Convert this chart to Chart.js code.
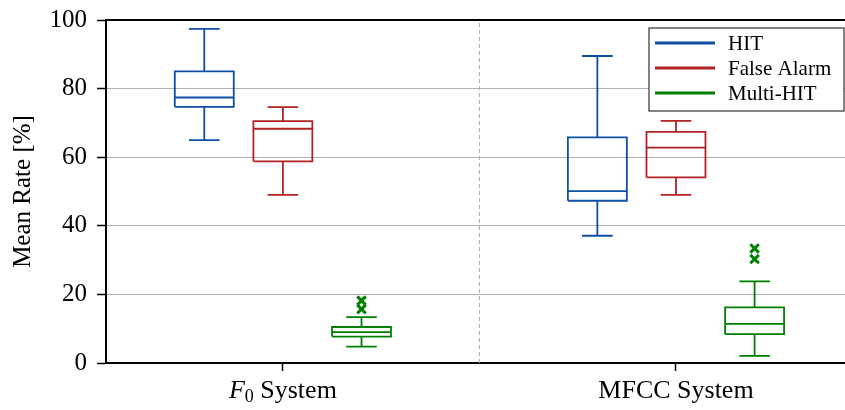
<!DOCTYPE html>
<html>
<head>
<meta charset="utf-8">
<script src="https://cdn.jsdelivr.net/npm/chart.js@4.4.0/dist/chart.umd.min.js"></script>
<style>
  html, body { margin: 0; padding: 0; background: #fff; }
  #wrap { width: 845px; height: 410px; position: relative; }
</style>
</head>
<body>
<div id="wrap"><canvas id="chart"></canvas></div>
<script>
// --- data ---
// tick labels: [italic part, subscript, rest]
const groupLabels = [['F', '0', ' System'], ['', '', 'MFCC System']];
const seriesNames = ['HIT', 'False Alarm', 'Multi-HIT'];
const seriesColors = ['#0f4ea6', '#b22222', '#008000'];

// each box: [lower whisker, q1, median, q3, upper whisker], one per group
const hitStats = [[65.0, 74.7, 77.4, 85.0, 97.4], [37.1, 47.3, 50.1, 65.8, 89.5]];
const falseAlarmStats = [[49.0, 58.8, 68.3, 70.5, 74.6], [49.0, 54.1, 62.8, 67.4, 70.6]];
const multiHitStats = [[4.8, 7.7, 9.0, 10.5, 13.4], [2.1, 8.4, 11.4, 16.2, 23.8]];

// outliers (fliers) per group
const hitOutliers = [[], []];
const falseAlarmOutliers = [[], []];
const multiHitOutliers = [[18.2, 15.7], [33.4, 30.3]];

const yTicks = [0, 20, 40, 60, 80, 100];

// --- build datasets ---
const allStats = [hitStats, falseAlarmStats, multiHitStats];
const allOutliers = [hitOutliers, falseAlarmOutliers, multiHitOutliers];
const offsets = [-0.2, 0, 0.2];
const halfBox = 0.075;
const halfCap = 0.039;

function boxPoints(stats, c) {
  const [lo, q1, med, q3, hi] = stats;
  const gap = { x: c, y: null };
  return [
    { x: c - halfBox, y: q1 }, { x: c + halfBox, y: q1 }, { x: c + halfBox, y: q3 },
    { x: c - halfBox, y: q3 }, { x: c - halfBox, y: q1 }, gap,
    { x: c - halfBox, y: med }, { x: c + halfBox, y: med }, gap,
    { x: c, y: q1 }, { x: c, y: lo }, gap,
    { x: c, y: q3 }, { x: c, y: hi }, gap,
    { x: c - halfCap, y: lo }, { x: c + halfCap, y: lo }, gap,
    { x: c - halfCap, y: hi }, { x: c + halfCap, y: hi }
  ];
}

const datasets = [];

// group separator
datasets.push({
  label: 'sep',
  data: [{ x: 0.5, y: 0 }, { x: 0.5, y: 100 }],
  showLine: true,
  borderColor: '#aaaaaa',
  borderWidth: 1,
  borderDash: [4, 3],
  pointRadius: 0
});

seriesNames.forEach((name, s) => {
  const pts = [];
  allStats[s].forEach((st, g) => {
    if (pts.length) pts.push({ x: g, y: null });
    pts.push(...boxPoints(st, g + offsets[s]));
  });
  datasets.push({
    label: name,
    data: pts,
    showLine: true,
    spanGaps: false,
    borderColor: seriesColors[s],
    borderWidth: 1.8,
    pointRadius: 0
  });
  const outPts = [];
  allOutliers[s].forEach((vals, g) => {
    vals.forEach(v => outPts.push({ x: g + offsets[s], y: v }));
  });
  if (outPts.length) {
    datasets.push({
      label: name + ' outliers',
      data: outPts,
      showLine: false,
      pointStyle: 'crossRot',
      pointRadius: 6,
      borderWidth: 3,
      borderColor: seriesColors[s],
      backgroundColor: seriesColors[s]
    });
  }
});

const serif = "'Liberation Serif', 'DejaVu Serif', serif";

// top spine, x tick labels and the framed legend
const extras = {
  id: 'extras',
  afterDraw(chart) {
    const { ctx, chartArea, scales } = chart;
    ctx.save();
    // top spine
    ctx.strokeStyle = '#000';
    ctx.lineWidth = 2;
    ctx.beginPath();
    ctx.moveTo(chartArea.left - 1, chartArea.top);
    ctx.lineTo(chartArea.right, chartArea.top);
    ctx.stroke();

    // x tick labels
    ctx.fillStyle = '#000';
    ctx.textBaseline = 'alphabetic';
    ctx.textAlign = 'left';
    groupLabels.forEach((parts, g) => {
      const [it, sub, rest] = parts;
      ctx.font = 'italic 26px ' + serif;
      const wIt = ctx.measureText(it).width;
      ctx.font = '18px ' + serif;
      const wSub = ctx.measureText(sub).width;
      ctx.font = '26px ' + serif;
      const wRest = ctx.measureText(rest).width;
      const cx = scales.x.getPixelForValue(g);
      const base = chartArea.bottom + 35;
      let x = cx - (wIt + wSub + wRest) / 2;
      ctx.font = 'italic 26px ' + serif;
      ctx.fillText(it, x, base);
      x += wIt;
      ctx.font = '18px ' + serif;
      ctx.fillText(sub, x, base + 4);
      x += wSub;
      ctx.font = '26px ' + serif;
      ctx.fillText(rest, x, base);
    });

    // legend
    const lw = 195, lh = 83;
    const lx = chartArea.right - lw - 1;
    const ly = chartArea.top + 8;
    ctx.fillStyle = '#fff';
    ctx.fillRect(lx, ly, lw, lh);
    ctx.strokeStyle = '#333';
    ctx.lineWidth = 1.2;
    ctx.strokeRect(lx, ly, lw, lh);
    ctx.font = '21px ' + serif;
    ctx.textBaseline = 'middle';
    seriesNames.forEach((name, s) => {
      const yy = ly + 15 + s * 25;
      ctx.strokeStyle = seriesColors[s];
      ctx.lineWidth = 3;
      ctx.beginPath();
      ctx.moveTo(lx + 6, yy);
      ctx.lineTo(lx + 66, yy);
      ctx.stroke();
      ctx.fillStyle = '#000';
      ctx.fillText(name, lx + 79, yy + 1);
    });
    ctx.restore();
  }
};

new Chart(document.getElementById('chart'), {
  type: 'scatter',
  data: { datasets },
  plugins: [extras],
  options: {
    responsive: true,
    maintainAspectRatio: false,
    animation: false,
    layout: { autoPadding: false, padding: { top: 20, right: 0, left: 0, bottom: 0 } },
    plugins: {
      legend: { display: false },
      tooltip: { enabled: false }
    },
    scales: {
      x: {
        type: 'linear',
        min: -0.45,
        max: 1.43,
        afterBuildTicks: (scale) => { scale.ticks = [{ value: 0 }, { value: 1 }]; },
        afterFit: (scale) => {
          scale.height = 47;
          scale.paddingLeft = 0;
          scale.paddingRight = 0;
        },
        ticks: { display: false },
        grid: {
          drawOnChartArea: false,
          drawTicks: true,
          tickLength: 8,
          tickColor: '#000',
          tickWidth: 1.5
        },
        border: { color: '#000', width: 2 }
      },
      y: {
        min: 0,
        max: 100,
        afterBuildTicks: (scale) => { scale.ticks = yTicks.map(v => ({ value: v })); },
        afterFit: (scale) => {
          scale.width = 106;
          scale.paddingTop = 0;
          scale.paddingBottom = 0;
        },
        ticks: {
          color: '#000',
          padding: 10,
          font: { family: serif, size: 25 }
        },
        grid: {
          color: (c) => (c.tick && (c.tick.value === 0 || c.tick.value === 100)) ? 'rgba(0,0,0,0)' : '#b0b0b0',
          lineWidth: 1,
          drawTicks: true,
          tickLength: 9,
          tickColor: '#000',
          tickWidth: 1.5
        },
        border: { color: '#000', width: 2 },
        title: {
          display: true,
          text: 'Mean Rate [%]',
          color: '#000',
          font: { family: serif, size: 25 },
          padding: { top: 8, bottom: 0 }
        }
      }
    }
  }
});
</script>
</body>
</html>
